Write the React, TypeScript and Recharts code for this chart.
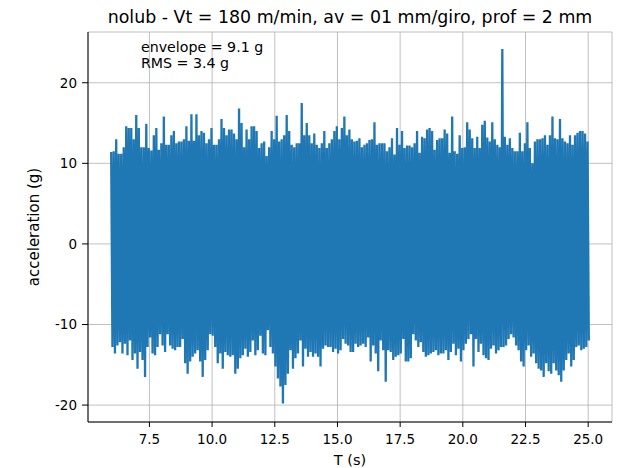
import React from 'react';
import { LineChart, Line, XAxis, YAxis, CartesianGrid } from 'recharts';

const TITLE = 'nolub - Vt = 180 m/min, av = 01 mm/giro, prof = 2 mm';
const NOTES = ['envelope = 9.1 g', 'RMS = 3.4 g'];

// sampling of the envelope (s)
const T_START = 6;
const T_STEP = 0.1;

// upper peaks, one every 0.1 s from 6.0 to 25.0 s (g)
const UPPER = [
  11.4, 11.5, 13.0, 11.2, 11.2, 12.0, 14.6, 14.4, 14.4, 13.0,
  16.0, 14.4, 12.0, 12.0, 14.9, 11.9, 11.6, 13.5, 14.4, 11.7,
  12.5, 15.8, 12.3, 12.3, 13.5, 14.0, 12.5, 12.7, 12.7, 13.0,
  14.6, 12.8, 16.1, 12.8, 16.1, 13.5, 14.0, 13.8, 12.5, 13.0,
  14.4, 12.3, 12.3, 13.0, 15.5, 14.4, 13.5, 14.2, 14.2, 13.7,
  13.0, 16.8, 15.0, 12.0, 14.2, 13.0, 14.6, 14.6, 14.0, 11.9,
  12.5, 12.7, 10.9, 12.0, 14.0, 13.0, 15.9, 12.7, 13.0, 13.5,
  16.0, 14.0, 12.3, 12.0, 12.5, 12.5, 17.5, 13.5, 15.0, 13.5,
  12.5, 13.7, 12.3, 11.9, 12.5, 14.0, 11.9, 12.5, 13.0, 14.0,
  14.6, 13.0, 14.4, 15.8, 13.5,
  14.2, 13.0, 12.7, 12.8, 13.1, 12.0, 12.3, 12.5, 12.9, 13.0,
  15.1, 12.3, 12.5, 12.5, 12.5, 11.5, 12.0, 13.1, 11.1, 14.4,
  12.3, 14.0, 11.9, 12.2, 12.2, 12.0, 12.5, 14.0, 11.3, 13.3,
  13.1, 14.2, 14.4, 14.0, 11.7, 12.9, 13.1, 13.1, 14.2, 13.7,
  11.3, 15.8, 11.5, 11.2, 13.5, 11.9, 12.0, 15.1, 14.2, 13.1,
  11.9, 13.3, 11.9, 14.8, 15.3, 13.2, 12.7, 15.1, 13.0, 12.3,
  12.0, 24.2, 13.3, 12.3, 13.1, 11.9, 11.5, 11.5, 13.8, 11.5,
  12.5, 15.1, 11.9, 10.0, 12.7, 13.0, 13.0, 13.1, 13.5, 12.3,
  13.5, 15.8, 13.1, 13.0, 15.5, 13.1, 12.7, 12.5, 13.5, 12.3,
  13.5, 13.8, 14.0, 14.0, 13.7, 12.7,
];

// lower peaks, same sampling (g)
const LOWER = [
  -12.8, -13.6, -12.6, -12.2, -13.6, -12.4, -13.8, -12.0, -14.4, -13.6,
  -15.5, -13.4, -14.4, -16.5, -12.8, -11.6, -13.6, -13.8, -12.8, -11.2,
  -12.6, -13.4, -11.2, -12.6, -13.0, -13.2, -12.8, -12.8, -11.8, -14.8,
  -16.1, -14.6, -14.0, -13.6, -13.2, -14.6, -16.5, -14.4, -13.2, -11.2,
  -11.4, -12.8, -14.8, -13.6, -15.5, -13.4, -13.8, -14.0, -13.8, -16.1,
  -15.5, -14.2, -13.8, -13.0, -14.0, -13.4, -12.0, -13.8, -13.2, -11.4,
  -13.6, -13.8, -10.7, -12.8, -13.6, -15.2, -16.7, -17.7, -19.8, -17.5,
  -16.1, -13.2, -15.5, -14.2, -13.6, -12.0, -15.2, -13.0, -14.0, -13.4,
  -14.0, -13.6, -14.0, -15.2, -13.0, -12.6, -12.8, -12.8, -13.4, -13.0,
  -13.6, -13.2, -11.8, -12.4, -12.6,
  -13.4, -13.4, -12.4, -12.8, -12.6, -12.4, -12.8, -11.6, -14.6, -12.6,
  -13.6, -15.8, -12.0, -13.2, -17.1, -13.2, -13.4, -14.4, -14.0, -13.8,
  -13.6, -11.8, -14.6, -14.6, -14.2, -11.2, -12.0, -12.8, -12.2, -13.4,
  -14.0, -13.8, -13.6, -13.4, -13.2, -13.8, -13.6, -13.6, -13.2, -14.4,
  -13.4, -12.4, -13.8, -13.0, -14.6, -13.2, -12.4, -11.8, -11.2, -15.2,
  -11.8, -13.4, -12.4, -13.8, -14.2, -14.4, -13.0, -12.6, -13.6, -13.2,
  -12.8, -12.8, -12.6, -11.8, -11.2, -11.6, -12.6, -13.2, -14.6, -15.2,
  -13.2, -12.6, -14.0, -13.6, -14.8, -15.5, -15.7, -16.5, -14.8, -15.8,
  -16.1, -14.8, -15.7, -16.3, -17.1, -15.7, -14.4, -13.6, -15.2, -14.4,
  -12.8, -12.6, -13.2, -13.0, -12.8, -12.0,
];

const X_TICKS = [7.5, 10, 12.5, 15, 17.5, 20, 22.5, 25];
const Y_TICKS = [-20, -10, 0, 10, 20];
const X_DOMAIN = [5.05, 25.95];
const Y_DOMAIN = [-22.1, 26.3];

// alternate upper / lower peaks so the line sweeps the whole band
const data: { t: number; a: number }[] = [];
UPPER.forEach((u, k) => {
  const t = T_START + k * T_STEP;
  data.push({ t: t - T_STEP / 4, a: u });
  data.push({ t: t + T_STEP / 4, a: LOWER[k] });
});

const FONT = '"DejaVu Sans", sans-serif';
const W = 614;
const H = 460;
const tickStyle = { fill: '#000', fontSize: 13.5, fontFamily: FONT };

export default function App() {
  return (
    <div style={{ position: 'relative', width: W, height: H, background: '#fff' }}>
      <LineChart
        width={W}
        height={H}
        data={data}
        margin={{ top: 24, right: 10, bottom: 0, left: 0 }}
      >
        <CartesianGrid stroke="#b0b0b0" strokeWidth={0.8} />
        <XAxis
          dataKey="t"
          type="number"
          domain={X_DOMAIN}
          ticks={X_TICKS}
          allowDataOverflow
          height={46}
          tickFormatter={(v: number) => v.toFixed(1)}
          tick={tickStyle}
          tickSize={5}
          tickMargin={7}
          stroke="#000"
        />
        <XAxis
          xAxisId="top"
          orientation="top"
          type="number"
          domain={X_DOMAIN}
          height={0}
          tick={false}
          tickLine={false}
          stroke="#000"
        />
        <YAxis
          type="number"
          domain={Y_DOMAIN}
          ticks={Y_TICKS}
          allowDataOverflow
          width={80}
          tick={tickStyle}
          tickSize={6}
          tickMargin={5}
          stroke="#000"
        />
        <YAxis
          yAxisId="right"
          orientation="right"
          type="number"
          domain={Y_DOMAIN}
          width={0}
          tick={false}
          tickLine={false}
          stroke="#000"
        />
        <Line
          dataKey="a"
          type="linear"
          stroke="#1f77b4"
          strokeWidth={2.3}
          strokeLinejoin="bevel"
          dot={false}
          isAnimationActive={false}
        />
      </LineChart>
      <svg
        width={W}
        height={H}
        style={{ position: 'absolute', left: 0, top: 0, pointerEvents: 'none' }}
        fontFamily={FONT}
      >
        <text x={342} y={15} textAnchor="middle" fontSize={17.4} fill="#000">
          {TITLE}
        </text>
        <text x={133} y={44} fontSize={14.2} fill="#000">{NOTES[0]}</text>
        <text x={133} y={60} fontSize={14.2} fill="#000">{NOTES[1]}</text>
        <text
          x={31}
          y={219}
          textAnchor="middle"
          fontSize={15}
          fill="#000"
          transform="rotate(-90 31 219)"
        >
          acceleration (g)
        </text>
        <text x={342} y={457} textAnchor="middle" fontSize={14.5} fill="#000">
          T (s)
        </text>
      </svg>
    </div>
  );
}
